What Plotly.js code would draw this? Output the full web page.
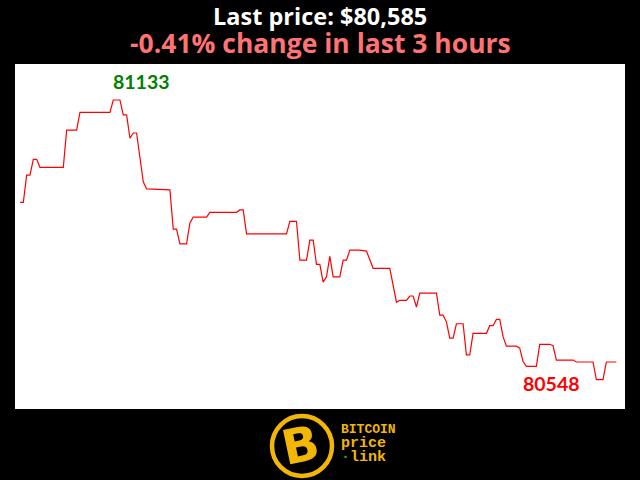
<!DOCTYPE html>
<html>
<head>
<meta charset="utf-8">
<script src="https://cdn.plot.ly/plotly-3.0.1.min.js"></script>
<style>html,body{margin:0;padding:0;background:#000;}#chart{width:640px;height:480px;}</style>
</head>
<body>
<div id="chart"></div>
<script>
// minute index (0..179 over the last 3 hours) and price at each line vertex
const minutes = [0,1,2,3,4,5,6,13,14,17,18,27,28,30,31,32,33,34,35,37,38,41,45,46,47,48,50,51,52,56,57,65,66,67,68,80,81,83,84,86,87,88,89,90,91,92,93,94,96,97,98,99,102,104,106,111,113,114,116,117,118,119,120,125,126,127,128,129,130,131,133,134,135,136,140,141,142,143,144,145,146,149,150,151,152,155,156,159,160,161,166,167,172,173,175,176,179];
const prices  = [80919,80919,80976,80976,81009,81009,80992,80992,81070,81070,81107,81107,81133,81133,81102,81102,81053,81064,81064,80962,80947,80946,80945,80863,80863,80832,80832,80876,80888,80888,80898,80898,80903,80903,80853,80853,80879,80879,80798,80798,80840,80840,80789,80789,80752,80763,80806,80763,80763,80798,80798,80819,80819,80817,80781,80781,80710,80714,80714,80723,80723,80700,80729,80729,80683,80683,80669,80635,80635,80665,80665,80600,80600,80645,80645,80661,80661,80674,80674,80638,80618,80618,80614,80586,80576,80576,80622,80622,80619,80589,80589,80585,80585,80548,80548,80585,80585];
const lastPrice = "$80,585";
const changeText = "-0.41% change in last 3 hours";

let maxI = 0, minI = 0;
prices.forEach((p,i)=>{ if(p>prices[maxI]) maxI=i; if(p<prices[minI]) minI=i; });

const titleFont = '"Open Sans", Lato, sans-serif';
const labelFont = 'Lato, "Open Sans", sans-serif';
const monoFont = '"Liberation Mono", "DejaVu Sans Mono", monospace';
const gold = '#f2b705';
const trace = {
  x: minutes, y: prices, type: 'scatter', mode: 'lines',
  line: {color: '#ff0000', width: 1.2}, hoverinfo: 'none'
};

const px = v => (v - 15) / 610;   // paper x from pixel
const py = v => (409 - v) / 345;  // paper y from pixel

const layout = {
  width: 640, height: 480,
  paper_bgcolor: '#000000', plot_bgcolor: '#ffffff',
  margin: {l: 15, r: 15, t: 64, b: 71},
  showlegend: false,
  xaxis: {range: [-1.5, 181.6], visible: false, fixedrange: true},
  yaxis: {range: [80486.7, 81208.3], visible: false, fixedrange: true},
  annotations: [
    {xref:'paper', yref:'paper', x:0.5, y:py(16), xanchor:'center', yanchor:'middle', showarrow:false,
     text:'<b>Last price: ' + lastPrice + '</b>', font:{family:titleFont, size:23.5, color:'#ffffff'}},
    {xref:'paper', yref:'paper', x:0.5, y:py(42.5), xanchor:'center', yanchor:'middle', showarrow:false,
     text:'<b>' + changeText + '</b>', font:{family:titleFont, size:26.5, color:'#ff7373'}},
    {x: minutes[maxI], y: prices[maxI], xanchor:'center', yanchor:'middle', xshift: 28, yshift: 19, showarrow:false,
     text:'<b>' + prices[maxI] + '</b>', font:{family:labelFont, size:19.5, color:'#008000'}},
    {x: minutes[minI], y: prices[minI], xanchor:'center', yanchor:'middle', xshift: -45, yshift: -4, showarrow:false,
     text:'<b>' + prices[minI] + '</b>', font:{family:labelFont, size:19.5, color:'#ff0000'}},
    // logo: rotated B in the ring
    {xref:'paper', yref:'paper', x:px(300), y:py(445), xanchor:'center', yanchor:'middle', showarrow:false, textangle:-12,
     text:'<b>B</b>', font:{family:'"DejaVu Sans", sans-serif', size:48, color:gold}},
    {xref:'paper', yref:'paper', x:px(339), y:py(429), xanchor:'left', yanchor:'middle', showarrow:false,
     text:'<b>BITCOIN</b>', font:{family:monoFont, size:13, color:gold}},
    {xref:'paper', yref:'paper', x:px(339), y:py(443), xanchor:'left', yanchor:'middle', showarrow:false,
     text:'<b>price</b>', font:{family:monoFont, size:15, color:gold}},
    {xref:'paper', yref:'paper', x:px(339), y:py(457), xanchor:'left', yanchor:'middle', showarrow:false,
     text:'<b><span style="color:#2fa82f">·</span>link</b>', font:{family:monoFont, size:15, color:gold}}
  ],
  shapes: [
    {type:'circle', xref:'paper', yref:'paper', xsizemode:'pixel', ysizemode:'pixel',
     xanchor:px(302), yanchor:py(446), x0:-30, x1:30, y0:-30, y1:30,
     line:{color:gold, width:4.5}, fillcolor:'#000000'}
  ]
};

Plotly.newPlot('chart', [trace], layout, {displayModeBar:false, staticPlot:true});
</script>
</body>
</html>
